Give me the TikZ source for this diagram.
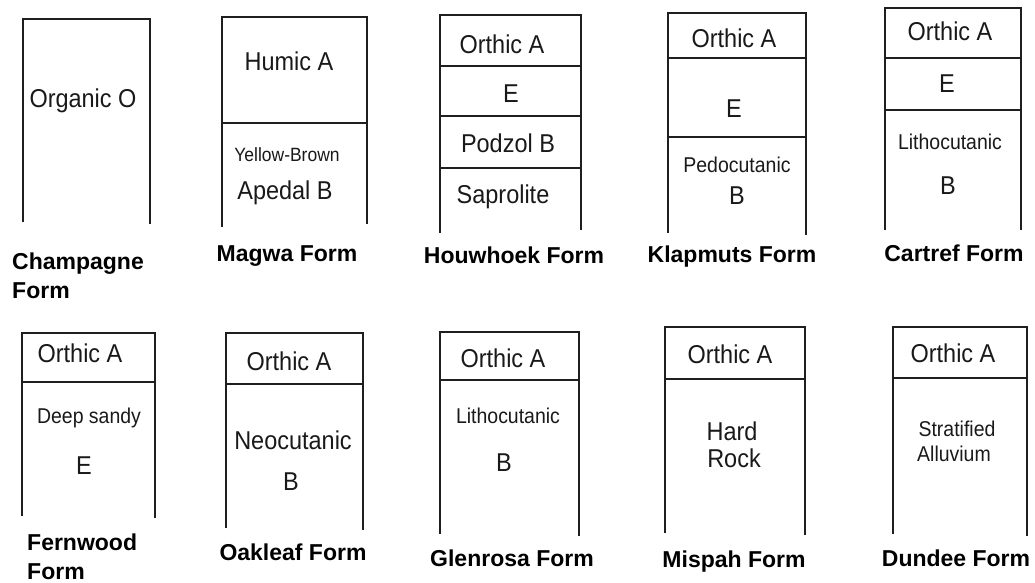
\documentclass[tikz,border=0pt]{standalone}
\usepackage{fontspec}
\setmainfont{Liberation Sans}
\newfontfamily\tallfont[FakeStretch=0.91]{Liberation Sans}
\begin{document}
\begin{tikzpicture}[x=1pt,y=-1pt,
  hz/.style={line width=1.4pt, draw=black!88},
  big/.style={font=\tallfont\fontsize{25.8}{30}\selectfont, inner sep=0pt, text height=18.4pt, text depth=0pt, text=black!90},
  small/.style={font=\tallfont\fontsize{21.4}{26}\selectfont, inner sep=0pt, text height=15.3pt, text depth=0pt, text=black!90},
  ttl/.style={font=\bfseries\fontsize{23}{28}\selectfont, inner sep=0pt, text height=16.5pt, text depth=0pt}]
\useasboundingbox (0,0) rectangle (1035,583);

% ---------- Row 1 ----------
% Champagne
\draw[hz] (23,222) -- (23,19) -- (150,19) -- (150,224);
\node[big] (cO) at (83,98) {Organic O};
\node[ttl,anchor=west] (cT1) at (12,261) {Champagne};
\node[ttl,anchor=west] (cT2) at (12,290) {Form};

% Magwa
\draw[hz] (222,227) -- (222,17) -- (367,17) -- (367,224);
\draw[hz] (222,123) -- (367,123);
\node[big] (mA) at (289,61) {Humic A};
\node[small,font=\tallfont\fontsize{19.2}{23}\selectfont,text height=13.8pt] (mYB) at (287,155) {Yellow-Brown};
\node[big] (mB) at (285,190) {Apedal B};
\node[ttl] (mT) at (287,253) {Magwa Form};

% Houwhoek
\draw[hz] (440,233) -- (440,15) -- (581,15) -- (581,230);
\draw[hz] (440,66) -- (581,66);
\draw[hz] (440,116) -- (581,116);
\draw[hz] (440,168) -- (581,168);
\node[big] (hA) at (502,44) {Orthic A};
\node[big] (hE) at (511,93) {E};
\node[big] (hB) at (508,143) {Podzol B};
\node[big] (hS) at (503,194) {Saprolite};
\node[ttl] (hT) at (514,255) {Houwhoek Form};

% Klapmuts
\draw[hz] (668,233) -- (668,13) -- (806,13) -- (806,235);
\draw[hz] (668,58) -- (806,58);
\draw[hz] (668,137) -- (806,137);
\node[big] (kA) at (734,38) {Orthic A};
\node[big] (kE) at (734,108) {E};
\node[small] (kP) at (737,165) {Pedocutanic};
\node[big] (kB) at (737,195) {B};
\node[ttl] (kT) at (732,254) {Klapmuts Form};

% Cartref
\draw[hz] (885,230) -- (885,8) -- (1021,8) -- (1021,230);
\draw[hz] (884,58) -- (1021,58);
\draw[hz] (885,110) -- (1021,110);
\node[big] (ctA) at (950,31) {Orthic A};
\node[big] (ctE) at (947,83) {E};
\node[small] (ctL) at (950,142) {Lithocutanic};
\node[big] (ctB) at (948,185) {B};
\node[ttl] (ctT) at (954,253) {Cartref Form};

% ---------- Row 2 ----------
% Fernwood
\draw[hz] (22,516) -- (22,333) -- (155,333) -- (155,518);
\draw[hz] (22,382) -- (155,382);
\node[big] (fA) at (80,353) {Orthic A};
\node[small] (fD) at (89,416) {Deep sandy};
\node[big] (fE) at (84,465) {E};
\node[ttl,anchor=west] (fT1) at (27,542) {Fernwood};
\node[ttl,anchor=west] (fT2) at (27,571) {Form};

% Oakleaf
\draw[hz] (226,528) -- (226,333) -- (363,333) -- (363,530);
\draw[hz] (226,384) -- (363,384);
\node[big] (oA) at (289,361) {Orthic A};
\node[big] (oN) at (293,440) {Neocutanic};
\node[big] (oB) at (291,481) {B};
\node[ttl] (oT) at (293,552) {Oakleaf Form};

% Glenrosa
\draw[hz] (440,534) -- (440,332) -- (579,332) -- (579,536);
\draw[hz] (440,380) -- (579,380);
\node[big] (gA) at (503,358) {Orthic A};
\node[small] (gL) at (508,416) {Lithocutanic};
\node[big] (gB) at (504,462) {B};
\node[ttl] (gT) at (512,558) {Glenrosa Form};

% Mispah
\draw[hz] (665,533) -- (665,327) -- (805,327) -- (805,535);
\draw[hz] (665,379) -- (805,379);
\node[big] (mpA) at (730,354) {Orthic A};
\node[big] (mpH) at (732,431) {Hard};
\node[big] (mpR) at (734,458) {Rock};
\node[ttl] (mpT) at (734,559) {Mispah Form};

% Dundee
\draw[hz] (893,534) -- (893,327) -- (1027,327) -- (1027,536);
\draw[hz] (893,378) -- (1027,378);
\node[big] (dA) at (953,353) {Orthic A};
\node[small] (dS) at (957,429) {Stratified};
\node[small] (dL) at (954,454) {Alluvium};
\node[ttl] (dT) at (956,558) {Dundee Form};
\end{tikzpicture}
\end{document}
